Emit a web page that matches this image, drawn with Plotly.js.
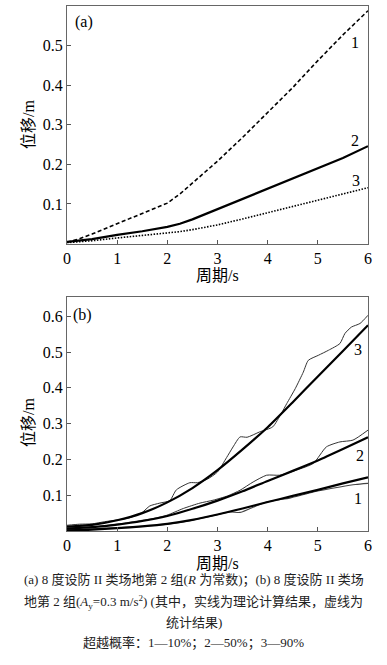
<!DOCTYPE html>
<html>
<head>
<meta charset="utf-8">
<script src="https://cdn.plot.ly/plotly-3.0.1.min.js"></script>
<style>html,body{margin:0;padding:0;background:#fff;}#chart{width:387px;height:665px;}</style>
</head>
<body>
<div id="chart"></div>
<script>
// Panel (a)
var tA = [0,0.25,0.5,1,1.5,2,2.25,2.5,3,3.5,4,4.5,5,5.5,6];
var a1 = [0.003,0.012,0.024,0.050,0.075,0.102,0.125,0.153,0.208,0.268,0.330,0.394,0.462,0.527,0.588];
var a2 = [0.004,0.007,0.011,0.022,0.031,0.042,0.050,0.061,0.087,0.112,0.138,0.164,0.191,0.216,0.246];
var a3 = [0.002,0.004,0.007,0.014,0.020,0.026,0.030,0.035,0.047,0.062,0.078,0.094,0.110,0.125,0.141];

// Panel (b) theory
var tB = [0,0.5,1,1.5,2,2.5,3,3.5,4,4.5,5,5.5,6];
var b1T = [0.002,0.004,0.008,0.013,0.020,0.031,0.046,0.063,0.081,0.098,0.115,0.133,0.150];
var b2T = [0.007,0.011,0.018,0.028,0.042,0.062,0.085,0.111,0.140,0.168,0.197,0.229,0.262];
var b3T = [0.012,0.017,0.030,0.050,0.080,0.120,0.170,0.228,0.290,0.360,0.432,0.503,0.575];

// Panel (b) statistics
var tS1 = [0,0.5,1,1.5,2,2.45,2.91,3.25,3.45,3.65,3.98,4.2,4.44,4.91,5.44,5.75,6];
var s1  = [0.004,0.006,0.009,0.013,0.019,0.029,0.043,0.053,0.052,0.063,0.081,0.087,0.092,0.109,0.123,0.130,0.133];
var tS2 = [0,0.5,1,1.5,1.72,1.99,2.32,2.65,2.91,3.2,3.45,3.71,3.98,4.24,4.57,4.91,5.17,5.44,5.7,6];
var s2  = [0.008,0.011,0.019,0.030,0.035,0.044,0.063,0.078,0.086,0.098,0.114,0.137,0.156,0.156,0.170,0.189,0.235,0.249,0.254,0.282];
var tS3 = [0,0.25,0.5,0.75,1,1.25,1.5,1.65,1.85,2.05,2.18,2.45,2.6,2.8,3.0,3.18,3.31,3.45,3.59,3.84,4.1,4.27,4.38,4.55,4.71,4.81,5.01,5.21,5.44,5.54,5.67,5.84,6];
var s3  = [0.016,0.019,0.020,0.026,0.031,0.037,0.052,0.070,0.078,0.085,0.115,0.135,0.135,0.145,0.165,0.205,0.235,0.263,0.262,0.277,0.291,0.328,0.356,0.398,0.444,0.477,0.491,0.505,0.524,0.552,0.570,0.580,0.603];

var xTicks = [0,1,2,3,4,5,6];
var yTicks = [0.1,0.2,0.3,0.4,0.5,0.6];
var yTickText = ['0.1','0.2','0.3','0.4','0.5','0.6'];
var xTickText = ['0','1','2','3','4','5','6'];

var serif = "Liberation Serif, Times New Roman, DejaVu Serif, Noto Sans CJK SC, serif";
var K = '#000';

function ln(x, y, xa, ya, w, dash, col, shape) {
  return {x: x, y: y, xaxis: xa, yaxis: ya, type: 'scatter', mode: 'lines',
    line: {color: col || K, width: w, dash: dash || 'solid', shape: shape || 'spline', smoothing: 0.6},
    hoverinfo: 'skip', showlegend: false};
}

var data = [
  ln(tA, a1, 'x', 'y', 1.6, '4px,2.5px', K, 'linear'),
  ln(tA, a2, 'x', 'y', 2.2, 'solid', K, 'linear'),
  ln(tA, a3, 'x', 'y', 1.6, '1.5px,1.5px', K, 'linear'),
  ln(tS1, s1, 'x2', 'y2', 1.1, 'solid', '#444'),
  ln(tS2, s2, 'x2', 'y2', 1.0, 'solid', '#333'),
  ln(tS3, s3, 'x2', 'y2', 1.0, 'solid', '#333'),
  ln(tB, b1T, 'x2', 'y2', 2.2),
  ln(tB, b2T, 'x2', 'y2', 2.2),
  ln(tB, b3T, 'x2', 'y2', 2.2)
];

function ax(range, vals, txt, domain, anchor) {
  var o = {
    range: range, tickmode: 'array', tickvals: vals, ticktext: txt, anchor: anchor,
    showgrid: false, zeroline: false, showline: true, mirror: true,
    linecolor: '#666', linewidth: 1, ticks: 'inside', ticklen: 4, tickcolor: '#555',
    tickfont: {family: serif, size: 16, color: '#000'}
  };
  if (domain) o.domain = domain;
  return o;
}

function px2x(px) { return (px - 67) / 301; }
function px2y(py) { return (531 - py) / 525; }

function ann(text, px, py, size, extra) {
  var o = {text: text, xref: 'paper', yref: 'paper', x: px2x(px), y: px2y(py),
    xanchor: 'center', yanchor: 'middle', showarrow: false,
    font: {family: serif, size: size, color: K}};
  if (extra) for (var k in extra) o[k] = extra[k];
  return o;
}

var capFont = {family: serif, size: 13, color: '#222'};

var layout = {
  width: 387, height: 665,
  font: {family: serif, size: 16, color: '#000'},
  margin: {l: 67, r: 19, t: 6, b: 134},
  paper_bgcolor: '#fff', plot_bgcolor: '#fff',
  xaxis: ax([0, 6], xTicks, xTickText, null, 'y'),
  yaxis: ax([0, 0.6], yTicks, yTickText, [0.5476, 1], 'x'),
  xaxis2: ax([0, 6], xTicks, xTickText, null, 'y2'),
  yaxis2: ax([0, 0.654], yTicks, yTickText, [0, 0.4457], 'x2'),
  annotations: [
    ann('(a)', 84, 22, 16),
    ann('1', 355, 42, 16),
    ann('2', 355, 140, 16),
    ann('3', 356, 180, 16),
    ann('(b)', 82, 315, 16),
    ann('3', 358, 350, 16),
    ann('2', 360, 455, 16),
    ann('1', 358, 498, 16),
    ann('位移/m', 28, 125, 16, {textangle: -90}),
    ann('位移/m', 28, 423, 16, {textangle: -90}),
    ann('周期/s', 217, 275, 16),
    ann('周期/s', 217, 563, 16),
    ann('(a) 8 度设防 II 类场地第 2 组(<i>R</i> 为常数)；(b) 8 度设防 II 类场', 193.5, 580, 13, {font: capFont}),
    ann('地第 2 组(<i>A</i><sub>y</sub>=0.3 m/s<sup>2</sup>) (其中，实线为理论计算结果，虚线为', 193.5, 602, 13, {font: capFont}),
    ann('统计结果)', 193.5, 622, 13, {font: capFont}),
    ann('超越概率：1—10%；2—50%；3—90%', 193.5, 643, 13, {font: capFont})
  ]
};

Plotly.newPlot('chart', data, layout, {staticPlot: true, displayModeBar: false});
</script>
</body>
</html>
